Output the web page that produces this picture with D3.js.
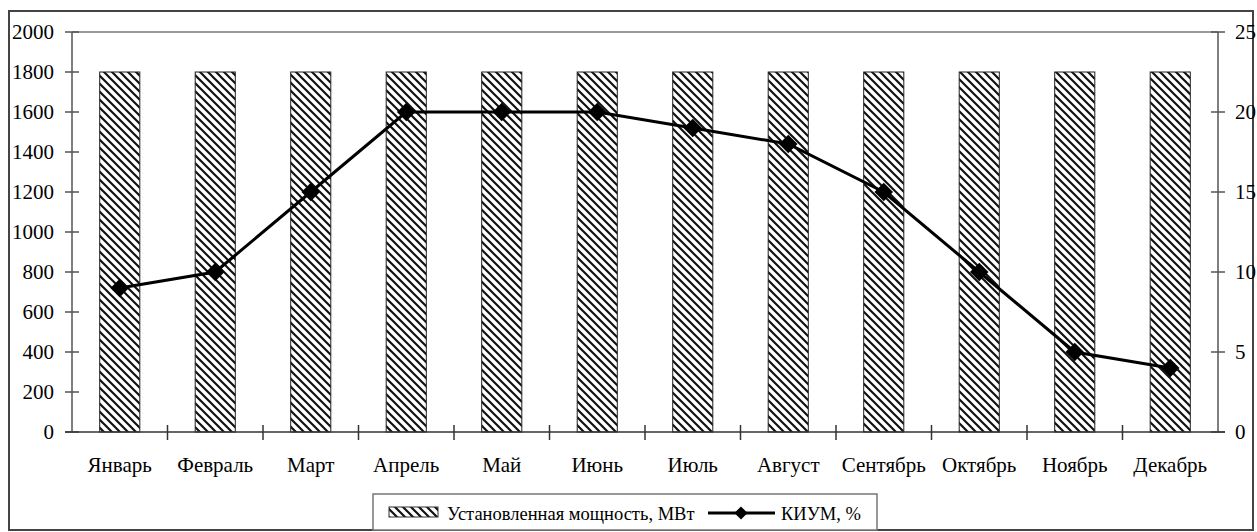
<!DOCTYPE html>
<html>
<head>
<meta charset="utf-8">
<script src="https://cdn.jsdelivr.net/npm/d3@7"></script>
<style>
  body { margin: 0; background: #fff; }
  text { font-family: "Liberation Serif", "Times New Roman", serif; fill: #000; }
</style>
</head>
<body>
<div id="chart"></div>
<script>
// months and series
const months = ["Январь", "Февраль", "Март", "Апрель", "Май", "Июнь",
  "Июль", "Август", "Сентябрь", "Октябрь", "Ноябрь", "Декабрь"];
const capacity = [1800, 1800, 1800, 1800, 1800, 1800, 1800, 1800, 1800, 1800, 1800, 1800];
const kium = [9, 10, 15, 20, 20, 20, 19, 18, 15, 10, 5, 4];
const leftTicks = [0, 200, 400, 600, 800, 1000, 1200, 1400, 1600, 1800, 2000];
const rightTicks = [0, 5, 10, 15, 20, 25];

const width = 1257;
const height = 532;
const plot = { left: 72, right: 1218, top: 32, bottom: 432 };

const svg = d3.select("#chart")
  .append("svg")
  .attr("width", width)
  .attr("height", height);

// hatch pattern for the bars
const defs = svg.append("defs");
defs.append("pattern")
  .attr("id", "hatch")
  .attr("patternUnits", "userSpaceOnUse")
  .attr("width", 8)
  .attr("height", 8)
  .append("path")
  .attr("d", "M0,0 L8,8 M-2,6 L2,10 M6,-2 L10,2")
  .attr("stroke", "#111")
  .attr("stroke-width", 2.2);

// outer frame
svg.append("rect")
  .attr("x", 9).attr("y", 11)
  .attr("width", 1244).attr("height", 519)
  .attr("fill", "none")
  .attr("stroke", "#444")
  .attr("stroke-width", 2);

const x = d3.scaleBand()
  .domain(months)
  .range([plot.left, plot.right]);

const yLeft = d3.scaleLinear().domain([0, 2000]).range([plot.bottom, plot.top]);
const yRight = d3.scaleLinear().domain([0, 25]).range([plot.bottom, plot.top]);

// top border of the plot area
svg.append("line")
  .attr("x1", plot.left).attr("x2", plot.right)
  .attr("y1", plot.top).attr("y2", plot.top)
  .attr("stroke", "#777").attr("stroke-width", 1.5);

// bars
const barW = x.bandwidth() * 0.42;
svg.append("g")
  .selectAll("rect")
  .data(capacity)
  .enter()
  .append("rect")
  .attr("x", (d, i) => x(months[i]) + (x.bandwidth() - barW) / 2)
  .attr("y", d => yLeft(d))
  .attr("width", barW)
  .attr("height", d => plot.bottom - yLeft(d))
  .attr("fill", "url(#hatch)")
  .attr("stroke", "#222")
  .attr("stroke-width", 1);

// left axis
const left = svg.append("g").attr("transform", `translate(${plot.left},0)`);
left.append("line")
  .attr("y1", plot.top).attr("y2", plot.bottom)
  .attr("stroke", "#555").attr("stroke-width", 1.5);
left.selectAll(".tick")
  .data(leftTicks)
  .enter()
  .append("line")
  .attr("x1", -7).attr("x2", 7)
  .attr("y1", d => yLeft(d)).attr("y2", d => yLeft(d))
  .attr("stroke", "#555").attr("stroke-width", 1.5);
left.selectAll("text")
  .data(leftTicks)
  .enter()
  .append("text")
  .attr("x", -18)
  .attr("y", d => yLeft(d))
  .attr("dy", "0.35em")
  .attr("text-anchor", "end")
  .style("font-size", "21px")
  .text(d => d);

// right axis
const right = svg.append("g").attr("transform", `translate(${plot.right},0)`);
right.append("line")
  .attr("y1", plot.top).attr("y2", plot.bottom)
  .attr("stroke", "#555").attr("stroke-width", 1.5);
right.selectAll(".tick")
  .data(rightTicks)
  .enter()
  .append("line")
  .attr("x1", -7).attr("x2", 7)
  .attr("y1", d => yRight(d)).attr("y2", d => yRight(d))
  .attr("stroke", "#555").attr("stroke-width", 1.5);
right.selectAll("text")
  .data(rightTicks)
  .enter()
  .append("text")
  .attr("x", 17)
  .attr("y", d => yRight(d))
  .attr("dy", "0.35em")
  .attr("text-anchor", "start")
  .style("font-size", "21px")
  .text(d => d);

// bottom axis
const bottom = svg.append("g");
bottom.append("line")
  .attr("x1", plot.left - 7).attr("x2", plot.right + 7)
  .attr("y1", plot.bottom).attr("y2", plot.bottom)
  .attr("stroke", "#333").attr("stroke-width", 1.5);
bottom.selectAll(".tick")
  .data(months.slice(1))
  .enter()
  .append("line")
  .attr("x1", d => x(d)).attr("x2", d => x(d))
  .attr("y1", plot.bottom - 7).attr("y2", plot.bottom + 8)
  .attr("stroke", "#333").attr("stroke-width", 1.5);
bottom.selectAll("text")
  .data(months)
  .enter()
  .append("text")
  .attr("x", d => x(d) + x.bandwidth() / 2)
  .attr("y", 472)
  .attr("text-anchor", "middle")
  .style("font-size", "21px")
  .text(d => d);

// KIUM line
const line = d3.line()
  .x((d, i) => x(months[i]) + x.bandwidth() / 2)
  .y(d => yRight(d));

svg.append("path")
  .datum(kium)
  .attr("d", line)
  .attr("fill", "none")
  .attr("stroke", "#000")
  .attr("stroke-width", 3);

const diamond = d3.symbol().type(d3.symbolDiamond2).size(220);
svg.append("g")
  .selectAll("path")
  .data(kium)
  .enter()
  .append("path")
  .attr("d", diamond)
  .attr("transform", (d, i) => `translate(${x(months[i]) + x.bandwidth() / 2},${yRight(d)})`)
  .attr("fill", "#000");

// legend
const legend = svg.append("g");
legend.append("rect")
  .attr("x", 373).attr("y", 494)
  .attr("width", 504).attr("height", 36)
  .attr("fill", "#fff")
  .attr("stroke", "#777")
  .attr("stroke-width", 1.5);
legend.append("rect")
  .attr("x", 389).attr("y", 507)
  .attr("width", 49).attr("height", 10)
  .attr("fill", "url(#hatch)")
  .attr("stroke", "#333");
legend.append("text")
  .attr("x", 447).attr("y", 520)
  .style("font-size", "18.5px")
  .text("Установленная мощность, МВт");
legend.append("line")
  .attr("x1", 708).attr("x2", 775)
  .attr("y1", 513).attr("y2", 513)
  .attr("stroke", "#000").attr("stroke-width", 3);
legend.append("path")
  .attr("d", d3.symbol().type(d3.symbolDiamond2).size(110))
  .attr("transform", "translate(741,513)")
  .attr("fill", "#000");
legend.append("text")
  .attr("x", 781).attr("y", 520)
  .style("font-size", "18.5px")
  .text("КИУМ, %");
</script>
</body>
</html>
